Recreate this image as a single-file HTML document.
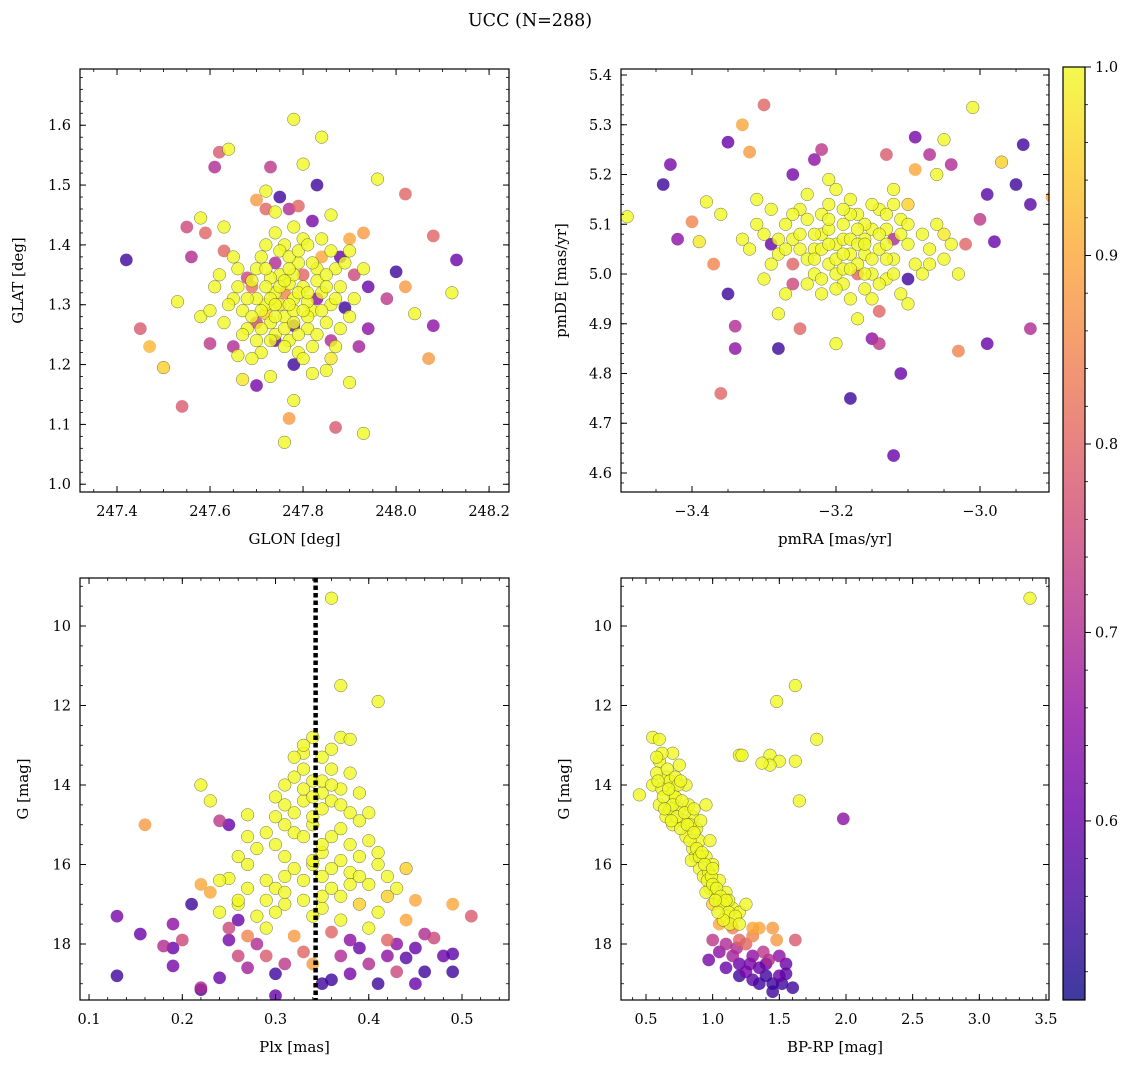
<!DOCTYPE html>
<html><head><meta charset="utf-8">
<style>
html,body{margin:0;padding:0;background:#fff;}
svg{display:block;font-family:"DejaVu Serif","Liberation Serif",serif;}
</style></head>
<body>
<svg id="fig" width="1136" height="1067" viewBox="0 0 1136 1067" xmlns="http://www.w3.org/2000/svg">
<defs>
<linearGradient id="plasma" x1="0" y1="1" x2="0" y2="0">
<stop offset="0" stop-color="#0d0887"/><stop offset="0.1" stop-color="#41049d"/><stop offset="0.2" stop-color="#6a00a8"/><stop offset="0.3" stop-color="#8f0da4"/><stop offset="0.4" stop-color="#b12a90"/><stop offset="0.5" stop-color="#cc4778"/><stop offset="0.6" stop-color="#e16462"/><stop offset="0.7" stop-color="#f2844b"/><stop offset="0.8" stop-color="#fca636"/><stop offset="0.9" stop-color="#fcce25"/><stop offset="1" stop-color="#f0f921"/>
</linearGradient>
</defs>
<text x="530" y="26" text-anchor="middle" font-size="17.5">UCC (N=288)</text>
</svg>
<script>
const p1Points = [[247.42,1.375,0.55],[247.45,1.26,0.78],[247.47,1.23,0.92],[247.50,1.195,0.95],[247.54,1.13,0.78],[247.53,1.305,1.0],[247.55,1.43,0.75],[247.56,1.38,0.7],[247.58,1.28,1.0],[247.58,1.445,1.0],[247.59,1.42,0.8],[247.60,1.235,0.72],[247.61,1.53,0.7],[247.62,1.555,0.78],[247.64,1.56,1.0],[247.63,1.43,1.0],[247.63,1.39,0.8],[247.65,1.23,0.7],[247.66,1.215,1.0],[247.67,1.175,0.98],[247.68,1.345,0.75],[247.70,1.475,0.88],[247.72,1.49,1.0],[247.72,1.46,0.8],[247.73,1.53,0.72],[247.74,1.455,1.0],[247.75,1.48,0.55],[247.77,1.46,0.7],[247.78,1.61,1.0],[247.79,1.465,0.8],[247.80,1.535,1.0],[247.82,1.44,0.62],[247.83,1.5,0.55],[247.86,1.45,1.0],[247.84,1.58,1.0],[247.88,1.38,0.6],[247.90,1.41,0.9],[247.93,1.42,0.88],[247.96,1.51,1.0],[247.98,1.31,0.72],[248.0,1.355,0.55],[248.02,1.33,0.88],[248.04,1.285,1.0],[248.02,1.485,0.8],[248.08,1.415,0.8],[248.08,1.265,0.65],[248.07,1.21,0.88],[248.12,1.32,1.0],[248.13,1.375,0.6],[247.94,1.33,0.6],[247.94,1.26,0.65],[247.93,1.085,1.0],[247.87,1.095,0.78],[247.85,1.19,1.0],[247.86,1.21,0.98],[247.90,1.17,1.0],[247.92,1.23,0.68],[247.77,1.11,0.88],[247.76,1.07,1.0],[247.78,1.14,1.0],[247.78,1.2,0.55],[247.73,1.18,1.0],[247.74,1.24,0.6],[247.70,1.165,0.62],[247.89,1.295,0.55],[247.91,1.35,0.75],
[247.72,1.3,1],[247.74,1.32,1],[247.76,1.28,1],[247.78,1.31,1],[247.80,1.33,1],[247.82,1.29,1],[247.75,1.35,1],[247.79,1.37,1],[247.81,1.26,1],[247.77,1.24,1],[247.73,1.27,1],[247.70,1.31,1],[247.84,1.32,1],[247.86,1.3,1],[247.83,1.36,1],[247.71,1.38,1],[247.69,1.34,1],[247.76,1.40,1],[247.80,1.41,1],[247.74,1.25,1],[247.85,1.27,1],[247.88,1.33,1],[247.67,1.29,1],[247.65,1.31,1],[247.68,1.26,1],[247.79,1.22,1],[247.82,1.23,1],[247.75,1.30,0.98],[247.77,1.335,1],[247.73,1.345,1],[247.78,1.29,1],[247.81,1.305,1],[247.72,1.285,0.95],[247.87,1.36,1],[247.90,1.28,1],[247.63,1.27,1],[247.62,1.35,1],[247.71,1.22,1],[247.84,1.38,0.9],[247.66,1.36,1],[247.76,1.32,0.85],[247.80,1.35,0.8],[247.69,1.33,0.82],[247.74,1.37,0.7],[247.83,1.31,0.65],[247.86,1.24,0.7],[247.70,1.27,0.75],[247.78,1.265,0.6]];
const p1Core = [[247.71,1.29],[247.73,1.31],[247.75,1.33],[247.77,1.30],[247.79,1.32],[247.81,1.28],[247.83,1.34],[247.76,1.26],[247.78,1.35],[247.80,1.29],[247.74,1.28],[247.72,1.33],[247.70,1.36],[247.68,1.31],[247.82,1.37],[247.85,1.35],[247.87,1.31],[247.84,1.29],[247.79,1.25],[247.76,1.23],[247.73,1.24],[247.71,1.26],[247.69,1.28],[247.75,1.39],[247.77,1.38],[247.79,1.39],[247.81,1.40],[247.78,1.43],[247.74,1.42],[247.72,1.40],[247.86,1.39],[247.89,1.37],[247.88,1.26],[247.91,1.31],[247.66,1.33],[247.64,1.30],[247.67,1.25],[247.80,1.21],[247.83,1.25],[247.85,1.33],[247.76,1.34],[247.78,1.27],[247.74,1.30],[247.81,1.32],[247.77,1.36],[247.72,1.36],[247.70,1.24],[247.60,1.29],[247.93,1.36],[247.65,1.38],[247.82,1.185],[247.87,1.23],[247.69,1.21],[247.84,1.41],[247.90,1.39],[247.61,1.33]];
const p2Points = [[-3.49,5.115,1],[-3.44,5.18,0.55],[-3.43,5.22,0.62],[-3.42,5.07,0.65],[-3.40,5.105,0.85],[-3.39,5.065,0.98],[-3.38,5.145,1],[-3.37,5.02,0.85],[-3.36,5.12,1],[-3.35,4.96,0.55],[-3.36,4.76,0.8],[-3.34,4.895,0.7],[-3.34,4.85,0.65],[-3.35,5.265,0.6],[-3.33,5.3,0.9],[-3.32,5.245,0.88],[-3.31,5.15,1],[-3.30,5.34,0.8],[-3.29,5.06,0.6],[-3.28,4.85,0.55],[-3.26,5.2,0.62],[-3.25,4.89,0.8],[-3.23,5.23,0.65],[-3.22,5.25,0.72],[-3.20,4.86,1],[-3.18,4.75,0.55],[-3.17,4.91,1],[-3.15,4.87,0.65],[-3.14,4.86,0.72],[-3.14,4.925,0.8],[-3.13,5.24,0.78],[-3.12,4.635,0.6],[-3.11,4.8,0.6],[-3.10,4.99,0.55],[-3.09,5.275,0.62],[-3.07,5.24,0.7],[-3.06,5.2,1],[-3.05,5.27,1],[-3.04,5.22,0.7],[-3.02,5.06,0.8],[-3.03,4.845,0.85],[-3.01,5.335,1],[-3.00,5.11,0.72],[-2.99,4.86,0.6],[-2.99,5.16,0.58],[-2.98,5.065,0.6],[-2.97,5.225,0.95],[-2.95,5.18,0.55],[-2.94,5.26,0.55],[-2.93,5.14,0.58],[-2.93,4.89,0.7],[-2.90,5.155,0.9],[-3.05,5.08,0.98],[-3.08,5.0,1],[-3.10,5.14,0.95],[-3.28,4.92,1],[-3.30,4.99,1],[-3.26,5.02,0.8],[-3.09,5.21,0.9],
[-3.25,5.05,1],[-3.22,5.08,1],[-3.20,5.06,1],[-3.18,5.04,1],[-3.16,5.07,1],[-3.14,5.05,1],[-3.19,5.1,1],[-3.17,5.12,1],[-3.21,5.02,1],[-3.23,5.0,1],[-3.15,5.0,1],[-3.13,5.09,1],[-3.12,5.03,1],[-3.24,5.11,1],[-3.26,5.07,1],[-3.28,5.04,1],[-3.19,4.98,1],[-3.16,4.97,1],[-3.21,5.14,1],[-3.18,5.15,1],[-3.14,5.13,1],[-3.11,5.11,1],[-3.10,5.06,1],[-3.27,5.1,1],[-3.29,5.13,1],[-3.22,4.96,1],[-3.18,4.95,1],[-3.13,4.99,1],[-3.20,5.0,1],[-3.17,5.02,1],[-3.15,5.09,1],[-3.23,5.05,1],[-3.19,5.07,1],[-3.16,5.04,1],[-3.24,5.16,1],[-3.20,5.17,1],[-3.30,5.08,1],[-3.32,5.05,1],[-3.09,5.02,1],[-3.07,5.05,1],[-3.05,5.03,1],[-3.12,5.17,1],[-3.26,4.98,0.75],[-3.11,4.96,1],[-3.21,5.19,1],[-3.17,5.0,0.8],[-3.12,5.07,0.7]];
const p2Core = [[-3.24,5.03],[-3.22,5.05],[-3.20,5.03],[-3.18,5.07],[-3.16,5.10],[-3.14,5.08],[-3.19,5.04],[-3.17,5.06],[-3.21,5.09],[-3.23,5.08],[-3.15,5.03],[-3.13,5.06],[-3.12,5.00],[-3.25,5.13],[-3.27,5.05],[-3.29,5.02],[-3.19,5.01],[-3.16,5.00],[-3.22,5.12],[-3.18,5.12],[-3.15,5.14],[-3.11,5.08],[-3.10,5.10],[-3.26,5.12],[-3.31,5.10],[-3.24,4.98],[-3.20,4.97],[-3.14,4.98],[-3.21,5.06],[-3.17,5.09],[-3.16,5.06],[-3.23,5.03],[-3.18,5.01],[-3.13,5.12],[-3.25,5.08],[-3.28,5.07],[-3.33,5.07],[-3.08,5.08],[-3.06,5.1],[-3.04,5.06],[-3.03,5.0],[-3.07,5.02],[-3.12,5.14],[-3.27,4.96],[-3.10,4.94],[-3.19,5.13],[-3.22,4.99],[-3.15,4.95],[-3.13,5.03],[-3.21,5.11]];
const p3Points = [[0.36,9.3,1],[0.37,11.5,1],[0.41,11.9,1],[0.34,12.8,1],[0.37,12.8,1],[0.38,12.85,1],[0.33,13.2,1],[0.35,13.3,1],[0.32,13.3,1],[0.36,13.6,1],[0.34,13.9,1],[0.31,14.0,1],[0.37,14.1,1],[0.39,14.2,1],[0.33,14.4,1],[0.35,14.6,1],[0.30,14.8,1],[0.38,14.7,1],[0.34,15.0,1],[0.32,15.2,1],[0.36,15.3,1],[0.40,15.4,1],[0.29,15.2,1],[0.35,15.7,1],[0.31,15.8,1],[0.37,15.9,1],[0.41,16.0,1],[0.44,16.1,0.95],[0.27,16.0,1],[0.25,16.35,1],[0.33,16.4,1],[0.30,16.6,1],[0.38,16.5,1],[0.42,16.8,0.95],[0.45,16.9,0.9],[0.22,14.0,1],[0.23,14.4,1],[0.27,14.75,1],[0.16,15.0,0.88],[0.24,14.9,0.72],[0.22,16.5,0.9],[0.23,16.7,0.9],[0.24,17.2,1],[0.26,17.0,1],[0.28,17.3,1],[0.31,17.0,1],[0.35,17.1,1],[0.39,17.0,0.95],[0.41,17.2,1],[0.44,17.4,0.9],[0.49,17.0,0.9],[0.51,17.3,0.78],[0.29,17.6,1],[0.32,17.8,0.88],[0.36,17.7,0.8],[0.27,17.8,0.85],[0.25,17.6,0.75],[0.33,13.6,1],[0.35,14.2,1],[0.32,14.7,1],[0.37,15.1,1],[0.34,16.0,1],[0.36,16.6,1],[0.31,16.3,1],[0.39,15.8,1],[0.29,16.9,1],
[0.13,17.3,0.62],[0.13,18.8,0.55],[0.155,17.75,0.6],[0.18,18.05,0.7],[0.19,18.1,0.6],[0.19,17.5,0.65],[0.19,18.55,0.62],[0.20,17.9,0.75],[0.21,17.0,0.55],[0.22,19.15,0.55],[0.22,19.1,0.7],[0.24,18.85,0.6],[0.25,17.9,0.62],[0.26,17.4,0.6],[0.26,18.3,0.75],[0.27,18.6,0.68],[0.28,18.0,0.7],[0.29,18.3,0.78],[0.30,18.75,0.55],[0.31,18.5,0.72],[0.33,18.2,0.8],[0.34,18.5,0.88],[0.36,18.9,0.55],[0.37,18.3,0.7],[0.38,18.75,0.62],[0.39,18.1,0.6],[0.40,18.5,0.7],[0.41,19.0,0.55],[0.42,18.3,0.65],[0.43,18.0,0.65],[0.43,18.7,0.75],[0.44,18.35,0.58],[0.45,18.1,0.6],[0.46,18.7,0.55],[0.47,17.85,0.75],[0.48,18.3,0.6],[0.49,18.7,0.55],[0.49,18.25,0.58],[0.45,19.0,0.6],[0.35,19.0,0.55],[0.30,19.3,0.6],[0.38,17.9,0.65],[0.25,15.0,0.6],[0.46,17.75,0.7],[0.42,17.9,0.8]];
const p3Core = [[0.33,13.0],[0.36,13.1],[0.35,13.9],[0.33,14.1],[0.36,14.4],[0.34,14.8],[0.31,14.5],[0.37,14.5],[0.39,14.9],[0.33,15.3],[0.35,15.5],[0.31,15.0],[0.38,15.5],[0.30,15.5],[0.34,15.9],[0.36,16.1],[0.32,16.1],[0.38,16.2],[0.40,16.5],[0.29,16.4],[0.35,16.8],[0.33,16.9],[0.37,16.8],[0.31,16.7],[0.27,16.6],[0.26,16.9],[0.39,16.3],[0.42,16.3],[0.40,14.7],[0.38,13.7],[0.32,13.8],[0.30,14.3],[0.28,15.6],[0.27,15.3],[0.41,15.7],[0.43,16.6],[0.34,17.3],[0.30,17.2],[0.37,17.4],[0.40,17.6],[0.24,16.4],[0.26,15.8],[0.35,16.3],[0.36,14.0],[0.34,14.3]];
const p4Points = [[3.38,9.3,1],[1.48,11.9,1],[1.62,11.5,1],[1.78,12.85,1],[1.2,13.25,1],[1.22,13.25,1],[1.43,13.25,1],[1.5,13.4,1],[1.43,13.5,1],[1.37,13.45,1],[1.62,13.4,1],[1.65,14.4,1],[1.98,14.85,0.65],[0.55,12.8,1],[0.6,12.85,1],[0.45,14.25,1],[0.7,13.2,1],[0.75,13.5,1],[0.6,13.4,1],[0.65,13.8,1],[0.55,14.0,1],[0.6,14.5,1],[0.7,14.2,1],[0.75,14.6,1],[0.8,14.0,1],[0.85,14.8,1],[0.95,14.5,1],[0.7,15.0,1],[0.8,15.3,1],[0.9,15.4,1],[0.85,15.6,1],[0.95,15.8,1],[0.9,16.1,1],[1.0,16.0,1],[1.05,16.4,1],[0.98,16.6,1],[1.1,16.7,1],[1.05,16.9,1],[1.15,17.1,1],[1.1,17.3,1],[1.2,17.2,1],[1.25,17.0,1],[0.65,14.8,1],[0.72,14.3,1],[0.78,14.9,1],[0.88,15.1,1],[0.93,16.3,1],[0.62,14.1,1],[0.68,14.6,1],[0.83,15.0,1],[0.87,15.8,1],[0.97,16.2,1],[1.02,16.7,1],[1.12,16.9,1],[0.58,13.7,1],[0.82,14.5,1],
[1.0,17.0,0.95],[1.05,17.5,0.9],[1.15,17.6,0.85],[1.2,17.9,0.8],[1.3,17.8,0.85],[1.35,17.6,0.9],[1.45,17.6,0.88],[1.48,17.9,0.88],[1.62,17.9,0.78],[1.0,17.9,0.72],[0.97,18.4,0.62],[1.1,18.0,0.7],[1.15,18.3,0.68],[1.2,18.5,0.6],[1.3,18.3,0.65],[1.25,18.0,0.8],[1.35,18.6,0.6],[1.4,18.8,0.55],[1.45,19.0,0.55],[1.42,18.4,0.7],[1.5,18.8,0.6],[1.55,18.75,0.58],[1.45,19.2,0.55],[1.6,19.1,0.55],[1.38,18.2,0.72],[1.5,18.3,0.65],[1.3,18.9,0.58],[1.25,18.7,0.62],[1.1,18.6,0.6],[1.2,18.8,0.55],[1.35,19.0,0.55],[1.4,18.5,0.6],[1.52,19.0,0.55],[1.55,18.5,0.6],[1.28,18.5,0.62],[1.18,18.1,0.7],[1.05,18.2,0.65],[1.3,17.6,0.9]];
const p4Core = [[0.62,13.2],[0.66,13.6],[0.68,13.9],[0.72,13.8],[0.74,14.0],[0.63,14.3],[0.67,14.1],[0.7,14.5],[0.73,14.8],[0.77,14.4],[0.79,14.7],[0.76,15.1],[0.81,15.0],[0.83,15.4],[0.86,15.2],[0.88,15.6],[0.84,15.9],[0.9,15.8],[0.92,15.7],[0.94,16.0],[0.96,16.4],[0.99,16.3],[0.95,16.7],[1.0,16.5],[1.03,16.6],[1.06,16.8],[1.08,17.0],[1.12,17.2],[1.1,16.9],[1.17,17.3],[1.13,17.5],[1.2,17.5],[1.08,17.4],[1.04,17.2],[0.69,14.9],[0.64,14.6],[0.59,13.9],[0.58,13.3],[0.76,13.9],[0.86,14.6],[0.91,14.9],[0.98,15.4],[1.0,16.1],[1.02,16.9]];
const plxLine = 0.343;
const p1XTicks = [247.4,247.6,247.8,248.0,248.2];
const p1YTicks = [1.0,1.1,1.2,1.3,1.4,1.5,1.6];
const p2XTicks = [-3.4,-3.2,-3.0];
const p2YTicks = [4.6,4.7,4.8,4.9,5.0,5.1,5.2,5.3,5.4];
const p3XTicks = [0.1,0.2,0.3,0.4,0.5];
const gTicks = [10,12,14,16,18];
const p4XTicks = [0.5,1.0,1.5,2.0,2.5,3.0,3.5];
const cbTicks = [0.6,0.7,0.8,0.9,1.0];
const vmin = 0.505, vmax = 1.0;

const NS = "http://www.w3.org/2000/svg";
const svg = document.getElementById('fig');
function mk(tag, attrs, parent){const e=document.createElementNS(NS,tag);for(const k in attrs)e.setAttribute(k,attrs[k]);(parent||svg).appendChild(e);return e;}
const stops=[[13,8,135],[65,4,157],[106,0,168],[143,13,164],[177,42,144],[204,71,120],[225,100,98],[242,132,75],[252,166,54],[252,206,37],[240,249,33]];
function cmap(v){let t=(v-vmin)/(vmax-vmin);t=Math.max(0,Math.min(1,t))*10;const i=Math.min(9,Math.floor(t)),f=t-i;const a=stops[i],b=stops[i+1];return `rgb(${a.map((c,j)=>Math.round(c+(b[j]-c)*f)).join(',')})`;}
function fmt(v,d){return v.toFixed(d).replace('-','\u2212');}
const withP = arr => arr.map(d=>[d[0],d[1],1]);

function panel(o){
  const g=mk('g',{});
  
  
  const X=v=>o.x0+(v-o.xd[0])/(o.xd[1]-o.xd[0])*(o.x1-o.x0);
  const Y=v=>o.yInv? o.y0+(v-o.yd[0])/(o.yd[1]-o.yd[0])*(o.y1-o.y0) : o.y1-(v-o.yd[0])/(o.yd[1]-o.yd[0])*(o.y1-o.y0);
  const clip='c'+o.name;
  const cp=mk('clipPath',{id:clip},g);mk('rect',{x:o.x0,y:o.y0,width:o.x1-o.x0,height:o.y1-o.y0},cp);
  const pg=mk('g',{'clip-path':`url(#${clip})`},g);
  const pts=o.pts.slice().sort((a,b)=>a[2]-b[2]);
  pts.forEach(p=>{
    const c=mk('circle',{cx:X(p[0]).toFixed(1),cy:Y(p[1]).toFixed(1),r:6.3,fill:cmap(p[2]),'fill-opacity':0.8,stroke:'#333','stroke-width':0.5,'stroke-opacity':p[2]>=0.95?0.7:0.1},pg);
    
    
  });
  if(o.vline!==undefined){
    const l=mk('line',{x1:X(o.vline),x2:X(o.vline),y1:o.y0,y2:o.y1,stroke:'#000','stroke-width':4.5,'stroke-dasharray':'4.5 3'},pg);
    
    
  }
  const fr=mk('rect',{x:o.x0,y:o.y0,width:o.x1-o.x0,height:o.y1-o.y0,fill:'none',stroke:'#000','stroke-width':1.2},g);
  
  
  for(let v=Math.ceil(o.xd[0]/o.xm)*o.xm; v<=o.xd[1]; v+=o.xm){const x=X(v);mk('line',{x1:x,x2:x,y1:o.y1,y2:o.y1-3,stroke:'#000','stroke-width':0.8},g);mk('line',{x1:x,x2:x,y1:o.y0,y2:o.y0+3,stroke:'#000','stroke-width':0.8},g);}
  for(let v=Math.ceil(o.yd[0]/o.ym)*o.ym; v<=o.yd[1]; v+=o.ym){const y=Y(v);mk('line',{x1:o.x0,x2:o.x0+3,y1:y,y2:y,stroke:'#000','stroke-width':0.8},g);mk('line',{x1:o.x1,x2:o.x1-3,y1:y,y2:y,stroke:'#000','stroke-width':0.8},g);}
  o.xt.forEach(v=>{const x=X(v);mk('line',{x1:x,x2:x,y1:o.y1,y2:o.y1-6,stroke:'#000','stroke-width':1},g);mk('line',{x1:x,x2:x,y1:o.y0,y2:o.y0+6,stroke:'#000','stroke-width':1},g);
    const t=mk('text',{x:x,y:o.y1+24,'text-anchor':'middle','font-size':14.5},g);t.textContent=fmt(v,o.xdec);
    
    });
  o.yt.forEach(v=>{const y=Y(v);mk('line',{x1:o.x0,x2:o.x0+6,y1:y,y2:y,stroke:'#000','stroke-width':1},g);mk('line',{x1:o.x1,x2:o.x1-6,y1:y,y2:y,stroke:'#000','stroke-width':1},g);
    const t=mk('text',{x:o.x0-9,y:y+5,'text-anchor':'end','font-size':14.5},g);t.textContent=fmt(v,o.ydec);
    
    });
  const xl=mk('text',{x:(o.x0+o.x1)/2,y:o.y1+52,'text-anchor':'middle','font-size':15},g);xl.textContent=o.xlab;
  
  
  const yx=o.ylx, yy=(o.y0+o.y1)/2;
  const yl=mk('text',{x:yx,y:yy,'text-anchor':'middle','font-size':15,transform:`rotate(-90 ${yx} ${yy})`},g);yl.textContent=o.ylab;
  
  
}
panel({name:'glon-glat-panel',x0:80,x1:509,y0:69,y1:492,xd:[247.3204,248.2428],yd:[0.987,1.694],pts:p1Points.concat(withP(p1Core)),xt:p1XTicks,yt:p1YTicks,xm:0.05,ym:0.02,xdec:1,ydec:1,xlab:'GLON [deg]',ylab:'GLAT [deg]',ylx:23});
panel({name:'pm-panel',x0:621,x1:1049,y0:69,y1:492,xd:[-3.4986,-2.9042],yd:[4.5618,5.4121],pts:p2Points.concat(withP(p2Core)),xt:p2XTicks,yt:p2YTicks,xm:0.05,ym:0.02,xdec:1,ydec:1,xlab:'pmRA [mas/yr]',ylab:'pmDE [mas/yr]',ylx:566});
panel({name:'plx-g-panel',x0:80,x1:509,y0:578,y1:1000,xd:[0.0903,0.5504],yd:[8.792,19.409],yInv:true,pts:p3Points.concat(withP(p3Core)),xt:p3XTicks,yt:gTicks,xm:0.02,ym:0.5,xdec:1,ydec:0,xlab:'Plx [mas]',ylab:'G [mag]',ylx:28,vline:plxLine});
panel({name:'cmd-panel',x0:621,x1:1049,y0:578,y1:1000,xd:[0.3125,3.5225],yd:[8.792,19.409],yInv:true,pts:p4Points.concat(withP(p4Core)),xt:p4XTicks,yt:gTicks,xm:0.1,ym:0.5,xdec:1,ydec:0,xlab:'BP-RP [mag]',ylab:'G [mag]',ylx:569});

const cb=mk('g',{});


const cy0=67, cy1=1000, cx0=1063, cx1=1085;
const CY=v=>cy1-(v-vmin)/(vmax-vmin)*(cy1-cy0);
mk('rect',{x:cx0,y:cy0,width:cx1-cx0,height:cy1-cy0,fill:'url(#plasma)','fill-opacity':0.8},cb);
mk('rect',{x:cx0,y:cy0,width:cx1-cx0,height:cy1-cy0,fill:'none',stroke:'#000','stroke-width':1.2},cb);
for(let v=0.52; v<=1.0001; v+=0.02){const y=CY(v);mk('line',{x1:cx1,x2:cx1+3,y1:y,y2:y,stroke:'#000','stroke-width':0.8},cb);}
cbTicks.forEach(v=>{const y=CY(v);mk('line',{x1:cx1,x2:cx1+6,y1:y,y2:y,stroke:'#000','stroke-width':1},cb);
  const t=mk('text',{x:cx1+10,y:y+5,'font-size':14.5},cb);t.textContent=v.toFixed(1);
  
  });
</script>
</body></html>
